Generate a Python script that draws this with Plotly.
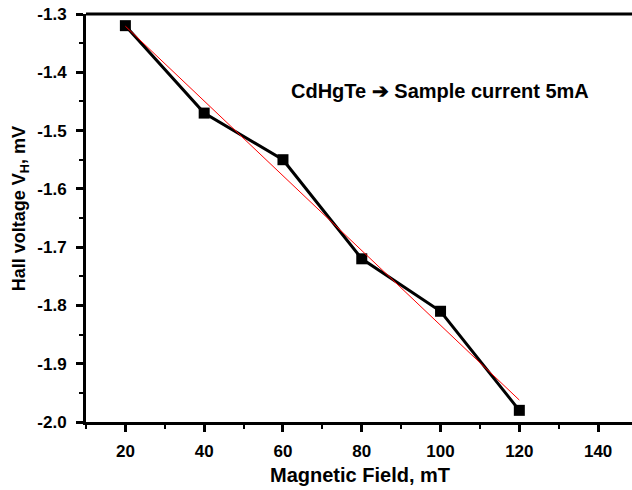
import numpy as np
import plotly.graph_objects as go

field_mT = [20, 40, 60, 80, 100, 120]
hall_mV = [-1.32, -1.47, -1.55, -1.72, -1.81, -1.98]
x_ticks = [20, 40, 60, 80, 100, 120, 140]
y_ticks = [-2.0, -1.9, -1.8, -1.7, -1.6, -1.5, -1.4, -1.3]

slope, intercept = np.polyfit(field_mT, hall_mV, 1)
fit_x = [field_mT[0], field_mT[-1]]
fit_y = [slope * v + intercept for v in fit_x]

font = "Arial"

fig = go.Figure()
fig.add_trace(go.Scatter(x=field_mT, y=hall_mV, mode="lines+markers",
                         line=dict(color="black", width=3),
                         marker=dict(symbol="square", size=11, color="black"),
                         showlegend=False))
fig.add_trace(go.Scatter(x=fit_x, y=fit_y, mode="lines",
                         line=dict(color="red", width=1), showlegend=False))

fig.update_layout(
    width=632, height=490,
    margin=dict(l=86, r=0, t=14, b=68),
    plot_bgcolor="white", paper_bgcolor="white",
    font=dict(family=font, color="black"),
    xaxis=dict(range=[10, 148.6], tickvals=x_ticks, automargin=False,
               ticktext=[f"<b>{v}</b>" for v in x_ticks],
               ticks="outside", ticklen=7, tickwidth=2.5, tickcolor="black",
               ticklabelstandoff=5,
               minor=dict(dtick=10, ticks="outside", ticklen=4, tickwidth=2, tickcolor="black"),
               showline=True, linewidth=3, linecolor="black", showgrid=False, zeroline=False,
               tickfont=dict(size=17, family=font, color="black")),
    yaxis=dict(range=[-2.0, -1.3], tickvals=y_ticks, automargin=False,
               ticktext=[f"<b>{v:.1f}</b>" for v in y_ticks],
               ticks="outside", ticklen=7, tickwidth=2.5, tickcolor="black",
               ticklabelstandoff=6,
               minor=dict(dtick=0.05, ticks="outside", ticklen=4, tickwidth=2, tickcolor="black"),
               showline=True, linewidth=3, linecolor="black", showgrid=False, zeroline=False,
               tickfont=dict(size=17, family=font, color="black")),
)
fig.add_shape(type="line", xref="paper", yref="paper", x0=0, x1=1, y0=1, y1=1,
              line=dict(color="black", width=3))
fig.add_annotation(x=0.502, y=-0.13, xref="paper", yref="paper", showarrow=False,
                   xanchor="center", yanchor="middle",
                   text="<b>Magnetic Field, mT</b>",
                   font=dict(size=20, family=font, color="black"))
fig.add_annotation(x=-0.1209, y=0.524, xref="paper", yref="paper", showarrow=False,
                   xanchor="center", yanchor="middle", textangle=-90,
                   text="<b>Hall voltage V<sub>H</sub>, mV</b>",
                   font=dict(size=18, family=font, color="black"))
fig.add_annotation(x=0.648, y=0.843, xref="paper", yref="paper", showarrow=False,
                   text="<b>CdHgTe ➔ Sample current 5mA</b>",
                   font=dict(size=20, family=font, color="black"))
fig.write_html("out.html", config={"displayModeBar": False},
               post_script="document.body.style.margin='0';document.body.style.padding='0';document.body.style.overflow='hidden';")
